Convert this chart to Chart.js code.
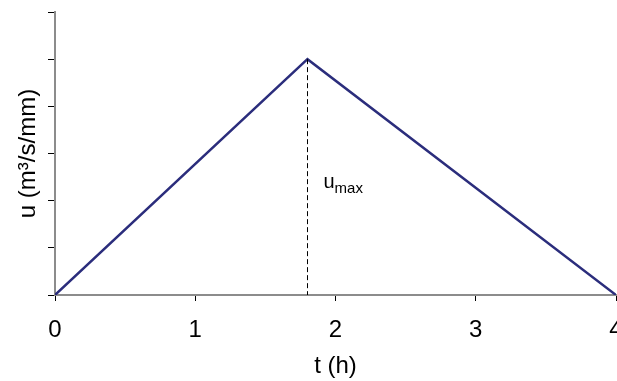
<!DOCTYPE html>
<html>
<head>
<meta charset="utf-8">
<style>
  html, body { margin: 0; padding: 0; background: #fff; }
  #wrap { width: 617px; height: 381px; }
</style>
<script src="https://cdn.jsdelivr.net/npm/chart.js@4/dist/chart.umd.min.js"></script>
</head>
<body>
<div id="wrap"><canvas id="uh"></canvas></div>
<script>
// Triangular unit hydrograph: rises to the peak, then recedes to zero.
const times = [0, 1.8, 4];          // t (h)
const flows = [0, 5, 0];            // u (m3/s/mm), arbitrary units
const xTicks = [0, 1, 2, 3, 4];
const yTicks = [0, 1, 2, 3, 4, 5, 6];
const peakIndex = 1;

const FONT = 'Liberation Sans, Arial, sans-serif';

// Dashed drop line under the peak and the u_max label
const peakMarker = {
  id: 'peakMarker',
  afterDatasetsDraw(chart) {
    const { ctx, scales: { x, y } } = chart;
    const px = x.getPixelForValue(times[peakIndex]);
    const py = y.getPixelForValue(flows[peakIndex]);
    const py0 = y.getPixelForValue(0);
    ctx.save();
    ctx.strokeStyle = '#000';
    ctx.lineWidth = 1;
    ctx.setLineDash([5, 3]);
    ctx.beginPath();
    ctx.moveTo(Math.round(px) + 0.5, py);
    ctx.lineTo(Math.round(px) + 0.5, py0);
    ctx.stroke();
    ctx.setLineDash([]);

    // label sits right of the drop line, a bit below mid-height
    const lx = px + 16;
    const ly = y.getPixelForValue(flows[peakIndex] * 0.455);
    ctx.fillStyle = '#000';
    ctx.textBaseline = 'alphabetic';
    ctx.textAlign = 'left';
    ctx.font = '20px ' + FONT;
    ctx.fillText('u', lx, ly);
    const w = ctx.measureText('u').width;
    ctx.font = '15px ' + FONT;
    ctx.fillText('max', lx + w, ly + 5);
    ctx.restore();
  }
};

new Chart(document.getElementById('uh'), {
  type: 'line',
  data: {
    datasets: [{
      data: times.map((t, i) => ({ x: t, y: flows[i] })),
      borderColor: '#2b2d7c',
      borderWidth: 2.5,
      pointRadius: 0,
      tension: 0,
      fill: false
    }]
  },
  options: {
    responsive: true,
    maintainAspectRatio: false,
    animation: false,
    events: [],
    layout: { padding: { top: 12, right: 1, left: 0, bottom: 0 } },
    plugins: { legend: { display: false }, tooltip: { enabled: false } },
    scales: {
      x: {
        type: 'linear',
        min: xTicks[0],
        max: xTicks[xTicks.length - 1],
        afterBuildTicks: s => { s.ticks = xTicks.map(v => ({ value: v })); },
        afterFit: s => { s.height = 86; s.paddingLeft = 0; s.paddingRight = 0; },
        border: { display: true, color: '#8c8c8c', width: 2 },
        grid: { drawOnChartArea: false, drawTicks: true, tickLength: 6, tickColor: '#000', tickWidth: 1 },
        ticks: { color: '#000', font: { family: FONT, size: 24 }, padding: 15, maxRotation: 0 },
        title: { display: true, text: 't (h)', color: '#000', font: { family: FONT, size: 24 }, padding: { top: 0, bottom: 0 } }
      },
      y: {
        type: 'linear',
        min: yTicks[0],
        max: yTicks[yTicks.length - 1],
        afterBuildTicks: s => { s.ticks = yTicks.map(v => ({ value: v })); },
        afterFit: s => { s.width = 55; s.paddingTop = 0; s.paddingBottom = 0; },
        border: { display: true, color: '#8c8c8c', width: 2 },
        grid: { drawOnChartArea: false, drawTicks: true, tickLength: 7, tickColor: '#000', tickWidth: 1 },
        ticks: { display: false },
        title: { display: true, text: 'u (m³/s/mm)', color: '#000', font: { family: FONT, size: 24 }, padding: { top: 14, bottom: 0 } }
      }
    }
  },
  plugins: [peakMarker]
});
</script>
</body>
</html>
